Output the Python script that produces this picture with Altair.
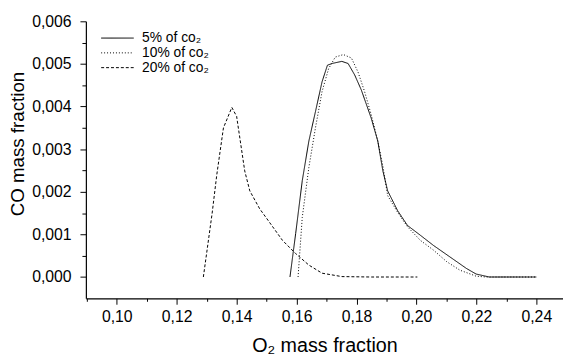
import altair as alt
import pandas as pd

# 5% of CO2 (solid)
x5 = [0.1578, 0.1597, 0.1619, 0.1641, 0.1663, 0.1685, 0.1703, 0.1718, 0.1751, 0.1772, 0.1794,
      0.1816, 0.1849, 0.1871, 0.1888, 0.1904, 0.1937, 0.1970, 0.2013, 0.2057, 0.2112, 0.2167,
      0.2199, 0.2243, 0.2300, 0.2400]
y5 = [0.0, 0.00102, 0.00226, 0.00319, 0.00388, 0.00458, 0.00497, 0.00501, 0.00506, 0.00501, 0.00474,
      0.00439, 0.00373, 0.00319, 0.00249, 0.00202, 0.00156, 0.00121, 0.00098, 0.00074, 0.00047, 0.00020,
      0.00007, 0.0, 0.0, 0.0]

# 10% of CO2 (dotted)
x10 = [0.1605, 0.1619, 0.1641, 0.1663, 0.1685, 0.1707, 0.1729, 0.1756, 0.1783, 0.1805, 0.1827,
       0.1849, 0.1871, 0.1888, 0.1904, 0.1937, 0.1970, 0.2013, 0.2057, 0.2101, 0.2145, 0.2199,
       0.2232, 0.2300, 0.2400]
y10 = [0.0, 0.00140, 0.00257, 0.00350, 0.00435, 0.00489, 0.00516, 0.00522, 0.00514, 0.00481, 0.00435,
       0.00381, 0.00319, 0.00260, 0.00191, 0.00152, 0.00118, 0.00086, 0.00063, 0.00036, 0.00016, 0.00002,
       0.0, 0.0, 0.0]

# 20% of CO2 (dashed)
x20 = [0.1289, 0.1318, 0.1334, 0.1356, 0.1384, 0.1400, 0.1427, 0.1444, 0.1477, 0.1509, 0.1553,
       0.1597, 0.1641, 0.1685, 0.1751, 0.1850, 0.2003]
y20 = [0.0, 0.00148, 0.00241, 0.00350, 0.00398, 0.00377, 0.00249, 0.00202, 0.00160, 0.00129, 0.00086,
       0.00055, 0.00028, 0.00009, 0.00001, 0.0, 0.0]

series = ["5% of co\u2082", "10% of co\u2082", "20% of co\u2082"]
dashes = [[1, 0], [1, 2], [3, 2]]

x_major = [0.10, 0.12, 0.14, 0.16, 0.18, 0.20, 0.22, 0.24]
x_minor = [0.09, 0.11, 0.13, 0.15, 0.17, 0.19, 0.21, 0.23, 0.25]
y_major = [0.000, 0.001, 0.002, 0.003, 0.004, 0.005, 0.006]
y_minor = [0.0005, 0.0015, 0.0025, 0.0035, 0.0045, 0.0055]

rows = []
for name, xs, ys in zip(series, [x5, x10, x20], [y5, y10, y20]):
    for i, (a, b) in enumerate(zip(xs, ys)):
        rows.append({"s": name, "x": a, "y": b, "o": i})
df = pd.DataFrame(rows)

FONT = "Arial"
xscale = alt.Scale(domain=[0.0897, 0.2489], nice=False, zero=False)
yscale = alt.Scale(domain=[-0.0005, 0.006], nice=False, zero=False)

lines = alt.Chart(df).mark_line(strokeWidth=1, color="black", clip=True).encode(
    x=alt.X("x:Q", scale=xscale, axis=alt.Axis(
        values=x_major, orient="bottom", title="O\u2082 mass fraction",
        labelExpr="replace(format(datum.value, '.2f'), '.', ',')",
        tickSize=6, labelPadding=5, titlePadding=11, grid=False,
        domainColor="black", tickColor="black", labelColor="black", titleColor="black",
        labelFont=FONT, titleFont=FONT, labelFontSize=16, titleFontSize=20, titleFontWeight="normal",
        domainWidth=1.2, tickWidth=1)),
    y=alt.Y("y:Q", scale=yscale, axis=alt.Axis(
        values=y_major, orient="left", title="CO mass fraction",
        labelExpr="replace(format(datum.value, '.3f'), '.', ',')",
        tickSize=6, labelPadding=9, titlePadding=4, titleY=124, grid=False,
        domainColor="black", tickColor="black", labelColor="black", titleColor="black",
        labelFont=FONT, titleFont=FONT, labelFontSize=16, titleFontSize=19, titleFontWeight="normal",
        domainWidth=1.2, tickWidth=1)),
    strokeDash=alt.StrokeDash("s:N", scale=alt.Scale(domain=series, range=dashes),
                              legend=alt.Legend(title=None, orient="none", legendX=15, legendY=9,
                                                symbolType="M-1,0H3.4", symbolSize=225,
                                                symbolStrokeColor="black", symbolFillColor="transparent",
                                                symbolStrokeWidth=1, labelFont=FONT, labelFontSize=14,
                                                labelColor="black", rowPadding=0, labelOffset=26)),
    order="o:Q",
)

minor = alt.Chart(df).mark_point(opacity=0).encode(
    x=alt.X("x:Q", scale=xscale, axis=alt.Axis(
        values=x_minor, orient="bottom", title=None, labels=False, domain=False,
        tickSize=3, tickColor="black", grid=False)),
    y=alt.Y("y:Q", scale=yscale, axis=alt.Axis(
        values=y_minor, orient="left", title=None, labels=False, domain=False,
        tickSize=4, tickColor="black", grid=False)),
)

chart = alt.layer(lines, minor).resolve_axis(x="independent", y="independent").properties(
    width=484, height=281,
    autosize=alt.AutoSizeParams(type="none"),
    padding={"left": 79, "top": 11, "right": 0, "bottom": 56},
    background="white",
).configure_view(stroke=None)

chart.save("out.html", embed_options={"renderer": "svg", "actions": False})
